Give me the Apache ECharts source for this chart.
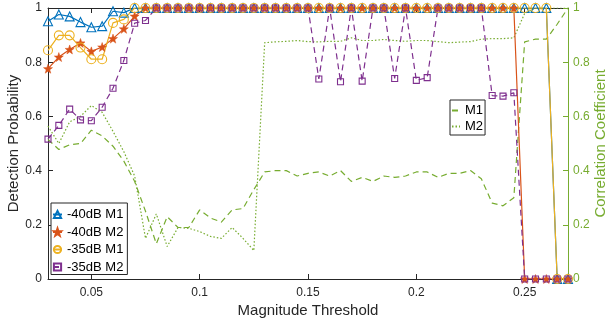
<!DOCTYPE html>
<html>
<head>
<meta charset="utf-8">
<script src="https://cdn.jsdelivr.net/npm/echarts@6/dist/echarts.min.js"></script>
<style>html,body{margin:0;padding:0;background:#fff}#c{width:607px;height:321px}</style>
</head>
<body>
<div id="c"></div>
<script>
// x values (Magnitude Threshold)
const thresholds = [0.03,0.035,0.04,0.045,0.05,0.055,0.06,0.065,0.07,0.075,0.08,0.085,0.09,0.095,0.1,0.105,0.11,0.115,0.12,0.125,0.13,0.135,0.14,0.145,0.15,0.155,0.16,0.165,0.17,0.175,0.18,0.185,0.19,0.195,0.2,0.205,0.21,0.215,0.22,0.225,0.23,0.235,0.24,0.245,0.25,0.255,0.26,0.265,0.27];
const xTicks = [0.05,0.1,0.15,0.2,0.25];
const yTicks = [0,0.2,0.4,0.6,0.8,1];

// Detection probability (left axis)
const m1_40dB = [0.951,0.976,0.969,0.948,0.929,0.933,0.988,0.983,1,1,1,1,1,1,1,1,1,1,1,1,1,1,1,1,1,1,1,1,1,1,1,1,1,1,1,1,1,1,1,1,1,1,1,1,1,1,1,0,0];
const m2_40dB = [0.776,0.819,0.847,0.871,0.84,0.856,0.887,0.923,0.97,1,1,1,1,1,1,1,1,1,1,1,1,1,1,1,1,1,1,1,1,1,1,1,1,1,1,1,1,1,1,1,1,1,1,1,0,0,0,0,0];
const m1_35dB = [0.844,0.899,0.899,0.854,0.811,0.811,0.945,0.958,1,1,1,1,1,1,1,1,1,1,1,1,1,1,1,1,1,1,1,1,1,1,1,1,1,1,1,1,1,1,1,1,1,1,1,1,1,1,1,0,0];
const m2_35dB = [0.516,0.567,0.627,0.587,0.584,0.634,0.704,0.806,0.944,0.954,1,1,1,1,1,1,1,1,1,1,1,1,1,1,1,0.738,1,0.728,1,0.73,1,1,0.74,1,0.733,0.743,1,1,1,1,1,0.677,0.675,0.687,0,0,0,0,0];

// Correlation coefficient (right axis)
const corrM1 = [0.515,0.478,0.495,0.5,0.549,0.528,0.49,0.435,0.36,0.25,0.13,0.23,0.19,0.19,0.255,0.225,0.21,0.255,0.26,0.33,0.395,0.4,0.4,0.38,0.39,0.395,0.38,0.4,0.36,0.375,0.36,0.38,0.375,0.38,0.395,0.395,0.375,0.39,0.39,0.4,0.37,0.28,0.27,0.3,0.875,0.885,0.885,0.94,1];
const corrM2 = [0.564,0.5,0.58,0.6,0.64,0.615,0.545,0.47,0.38,0.15,0.24,0.12,0.19,0.187,0.175,0.157,0.15,0.19,0.15,0.105,0.872,0.875,0.877,0.88,0.876,0.875,0.877,0.877,0.89,0.88,0.88,0.884,0.88,0.877,0.88,0.88,0.876,0.872,0.874,0.876,0.885,0.887,0.887,0.89,0.98,1,1,1,1];

const pair = arr => thresholds.map((x, i) => [x, arr[i]]);
const STAR = 'path://M50 0 L61.76 33.82 L97.55 34.55 L69.02 56.18 L79.39 90.45 L50 70 L20.61 90.45 L30.98 56.18 L2.45 34.55 L38.24 33.82 Z';
const AX = '#262626', GREEN = '#77AC30';
const FONT = '"Liberation Sans", Arial, sans-serif';

function probSeries(name, data, color, symbol, size, hollow, dashed) {
  return {
    name, type: 'line', yAxisIndex: 0, data: pair(data),
    symbol, symbolSize: size, showSymbol: true,
    lineStyle: { color, width: 1.2, type: dashed ? [6, 4] : 'solid' },
    itemStyle: hollow ? { color: 'rgba(255,255,255,0)', borderColor: color, borderWidth: 1.1 } : { color, borderColor: color, borderWidth: 0.5 },
    emphasis: { disabled: true }
  };
}
function corrSeries(name, data, dash) {
  return {
    name, type: 'line', yAxisIndex: 1, data: pair(data),
    symbol: 'circle', showSymbol: false, symbolSize: 0,
    lineStyle: { color: GREEN, width: 1.2, type: dash },
    itemStyle: { color: 'rgba(0,0,0,0)', borderWidth: 0 },
    emphasis: { disabled: true }
  };
}

const chart = echarts.init(document.getElementById('c'), null, { renderer: 'canvas' });
chart.setOption({
  animation: false,
  backgroundColor: '#fff',
  textStyle: { fontFamily: FONT },
  grid: { left: 48, right: 39, top: 8, bottom: 42, containLabel: false, outerBoundsMode: 'none' },
  xAxis: [{
    type: 'value', min: 0.03, max: 0.27, position: 'bottom',
    name: 'Magnitude Threshold', nameLocation: 'middle', nameGap: 24, nameMoveOverlap: false,
    nameTextStyle: { color: AX, fontSize: 15, fontFamily: FONT },
    axisLine: { show: true, onZero: false, lineStyle: { color: AX, width: 1 } },
    axisTick: { show: true, inside: true, length: 5, lineStyle: { color: AX }, customValues: xTicks },
    axisLabel: { color: AX, fontSize: 12, fontFamily: FONT, margin: 8, customValues: xTicks, formatter: v => String(+v.toFixed(3)) },
    splitLine: { show: false }
  }, {
    type: 'value', min: 0.03, max: 0.27, position: 'top',
    axisLine: { show: true, onZero: false, lineStyle: { color: AX, width: 1 } },
    axisTick: { show: true, inside: true, length: 5, lineStyle: { color: AX }, customValues: xTicks },
    axisLabel: { show: false, customValues: xTicks },
    splitLine: { show: false }
  }],
  yAxis: [{
    type: 'value', min: 0, max: 1, interval: 0.2, position: 'left',
    name: 'Detection Probability', nameLocation: 'middle', nameGap: 27, nameRotate: 90, nameMoveOverlap: false,
    nameTextStyle: { color: AX, fontSize: 15, fontFamily: FONT },
    axisLine: { show: true, lineStyle: { color: AX, width: 1 } },
    axisTick: { show: true, inside: true, length: 5, lineStyle: { color: AX } },
    axisLabel: { color: AX, fontSize: 12, fontFamily: FONT, margin: 6 },
    splitLine: { show: false }
  }, {
    type: 'value', min: 0, max: 1, interval: 0.2, position: 'right',
    name: 'Correlation Coefficient', nameLocation: 'middle', nameGap: 25, nameRotate: 90, nameMoveOverlap: false,
    nameTextStyle: { color: GREEN, fontSize: 15, fontFamily: FONT },
    axisLine: { show: true, lineStyle: { color: GREEN, width: 1 } },
    axisTick: { show: true, inside: true, length: 5, lineStyle: { color: GREEN } },
    axisLabel: { color: GREEN, fontSize: 12, fontFamily: FONT, margin: 5 },
    splitLine: { show: false }
  }],
  legend: [{
    data: ['-40dB M1', '-40dB M2', '-35dB M1', '-35dB M2'],
    orient: 'vertical', left: 51, top: 203,
    itemWidth: 9, itemHeight: 9, itemGap: 4.5, itemTextGap: 0,
    padding: [5, 4, 1, 1],
    borderColor: AX, borderWidth: 1, backgroundColor: '#fff',
    textStyle: { color: '#000', fontSize: 13, fontFamily: FONT },
    selectedMode: false
  }, {
    data: ['M1', 'M2'],
    orient: 'vertical', left: 450, top: 100,
    itemWidth: 8, itemHeight: 9, itemGap: 3, itemTextGap: 2,
    padding: [4, 2, 2, 1],
    borderColor: AX, borderWidth: 1, backgroundColor: '#fff',
    textStyle: { color: '#000', fontSize: 13, fontFamily: FONT },
    selectedMode: false
  }],
  series: [
    corrSeries('M1', corrM1, [6, 4]),
    corrSeries('M2', corrM2, [1.5, 2]),
    probSeries('-40dB M1', m1_40dB, '#0072BD', 'triangle', 9, true, false),
    probSeries('-40dB M2', m2_40dB, '#D95319', STAR, 9, false, false),
    probSeries('-35dB M1', m1_35dB, '#EDB120', 'circle', 9, true, false),
    probSeries('-35dB M2', m2_35dB, '#7E2F8E', 'rect', 6, true, true)
  ]
});
</script>
</body>
</html>
